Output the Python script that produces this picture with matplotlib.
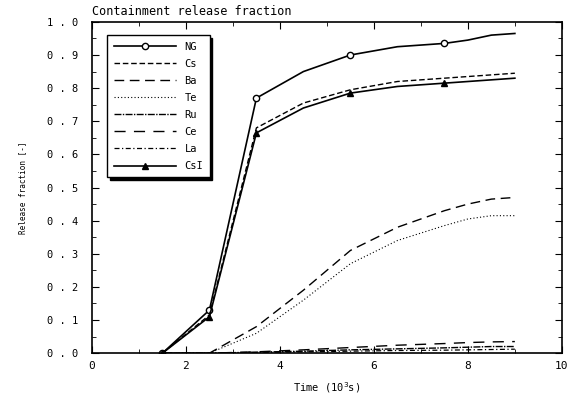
import matplotlib
matplotlib.use('Agg')
import matplotlib.pyplot as plt
from matplotlib.ticker import MultipleLocator

plt.rcParams['font.family'] = ['DejaVu Sans Mono']

# time points (10^3 s)
time = [1.5, 2.5, 3.5, 4.5, 5.5, 6.5, 7.5, 8.0, 8.5, 9.0]

# release fractions
ng = [0.0, 0.13, 0.77, 0.85, 0.90, 0.925, 0.935, 0.945, 0.96, 0.965]
cs = [0.0, 0.115, 0.68, 0.755, 0.795, 0.82, 0.83, 0.835, 0.84, 0.845]
ba = [0.0, 0.0, 0.08, 0.19, 0.31, 0.38, 0.43, 0.45, 0.465, 0.47]
te = [0.0, 0.0, 0.06, 0.16, 0.27, 0.34, 0.385, 0.405, 0.415, 0.415]
ru = [0.0, 0.0, 0.003, 0.006, 0.01, 0.013, 0.016, 0.018, 0.02, 0.02]
ce = [0.0, 0.0, 0.004, 0.01, 0.017, 0.024, 0.029, 0.032, 0.034, 0.035]
la = [0.0, 0.0, 0.002, 0.004, 0.006, 0.008, 0.009, 0.01, 0.011, 0.012]
csi = [0.0, 0.11, 0.665, 0.74, 0.785, 0.805, 0.815, 0.82, 0.825, 0.83]

marker_idx = [0, 1, 2, 4, 6]

fig = plt.figure(figsize=(5.71, 4.05), dpi=100)
ax = fig.add_axes([0.161, 0.128, 0.823, 0.818])

ax.plot(time, ng, color='black', lw=1.2, marker='o', ms=4.5, mfc='white',
        markevery=marker_idx, label='NG')
ax.plot(time, cs, color='black', lw=1.0, ls=(0, (4, 2)), label='Cs')
ax.plot(time, ba, color='black', lw=1.0, ls=(0, (7, 4)), label='Ba')
ax.plot(time, te, color='black', lw=0.8, ls=(0, (1, 2)), label='Te')
ax.plot(time, ru, color='black', lw=1.0, ls=(0, (5, 1, 1, 1)), label='Ru')
ax.plot(time, ce, color='black', lw=1.0, ls=(0, (8, 6)), label='Ce')
ax.plot(time, la, color='black', lw=0.9, ls=(0, (4, 2, 1, 2)), label='La')
ax.plot(time, csi, color='black', lw=1.2, marker='^', ms=4.5,
        markevery=marker_idx, label='CsI')

ax.set_xlim(0, 10)
ax.set_ylim(0, 1.0)
ax.xaxis.set_major_locator(MultipleLocator(2))
ax.xaxis.set_minor_locator(MultipleLocator(1))
ax.yaxis.set_major_locator(MultipleLocator(0.1))
ax.yaxis.set_minor_locator(MultipleLocator(0.05))
ax.yaxis.set_major_formatter(plt.FuncFormatter(lambda v, p: f'{v:.1f}'.replace('.', ' . ')))
ax.tick_params(which='both', direction='in', top=True, right=True)
ax.tick_params(axis='y', labelsize=7.5, pad=10)
ax.tick_params(axis='x', labelsize=8, pad=6)
ax.tick_params(which='major', length=5)
ax.tick_params(which='minor', length=3)
for sp in ax.spines.values():
    sp.set_linewidth(1.2)

ax.set_xlabel('Time (10$^3$s)', fontsize=7.5, labelpad=6)
ax.set_ylabel('Release fraction [-]', fontsize=5.5, labelpad=14)
ax.text(0.0, 1.012, 'Containment release fraction', transform=ax.transAxes,
        ha='left', va='bottom', fontsize=8.5)

leg = ax.legend(loc='upper left', bbox_to_anchor=(0.022, 0.975), fontsize=7.5,
                handlelength=6.0, labelspacing=0.68, fancybox=False,
                edgecolor='black', framealpha=1, borderpad=0.6,
                shadow={'color': 'black', 'alpha': 1})
leg.get_frame().set_linewidth(1.0)

fig.savefig('out.png', dpi=100)
